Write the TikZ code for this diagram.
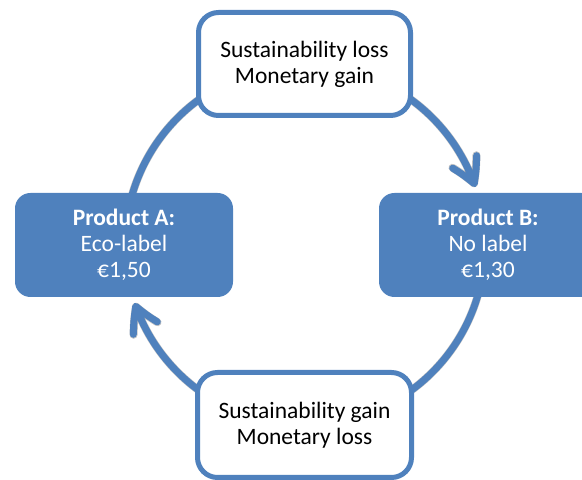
\documentclass[tikz,border=0pt]{standalone}
\usepackage{fontspec}
\setmainfont{Carlito}
\usetikzlibrary{arrows.meta,bending}
\pgfdeclarelayer{background}
\pgfsetlayers{background,main}
\definecolor{officeblue}{RGB}{79,129,189}
\tikzset{
  txt/.style={font=\fontsize{23.5}{26}\selectfont, align=center, inner sep=0pt},
  statebox/.style={txt, draw=officeblue, line width=5pt, fill=white,
    rounded corners=20pt, text=black},
  productbox/.style={txt, draw=officeblue, line width=1pt, fill=officeblue,
    rounded corners=15pt, text=white, minimum width=217pt, minimum height=103pt},
  flow/.style={draw=officeblue, line width=7pt},
  flowshadow/.style={draw=black, opacity=0.12, line width=8pt},
  tip/.style={-{Straight Barb[bend,length=24pt,width=27pt,round]}}
}
\begin{document}
\begin{tikzpicture}[x=1pt,y=1pt]
  \useasboundingbox (0,0) rectangle (582,480);
  \coordinate (c) at (305,235);

  % the four states
  \node[statebox, minimum width=212pt, minimum height=103pt] (loss) at (304.5,416)
    {Sustainability loss\\Monetary gain};
  \node[statebox, minimum width=214pt, minimum height=105pt] (gain) at (304.5,55)
    {Sustainability gain\\Monetary loss};
  \node[productbox] (A) at (124,235) {\textbf{Product A:}\\Eco-label\\€1,50};
  \node[productbox] (B) at (488,235) {\textbf{Product B:}\\No label\\€1,30};

  % circular flow between the states, behind the boxes
  \begin{pgfonlayer}{background}
    \foreach \dx/\dy in {2/-3,3/-4} {
      \begin{scope}[shift={(\dx,\dy)}]
        \draw[flowshadow, tip] ([shift={(75:180pt)}]c) arc[start angle=75, end angle=18.8, radius=180pt];
        \draw[flowshadow] ([shift={(-5:180pt)}]c) arc[start angle=-5, end angle=-75, radius=180pt];
        \draw[flowshadow, tip] ([shift={(255:180pt)}]c) arc[start angle=255, end angle=198.8, radius=180pt];
        \draw[flowshadow] ([shift={(175:180pt)}]c) arc[start angle=175, end angle=105, radius=180pt];
      \end{scope}
    }
    \draw[flow, tip] ([shift={(75:180pt)}]c) arc[start angle=75, end angle=18.8, radius=180pt];
    \draw[flow] ([shift={(-5:180pt)}]c) arc[start angle=-5, end angle=-75, radius=180pt];
    \draw[flow, tip] ([shift={(255:180pt)}]c) arc[start angle=255, end angle=198.8, radius=180pt];
    \draw[flow] ([shift={(175:180pt)}]c) arc[start angle=175, end angle=105, radius=180pt];
  \end{pgfonlayer}
\end{tikzpicture}
\end{document}
